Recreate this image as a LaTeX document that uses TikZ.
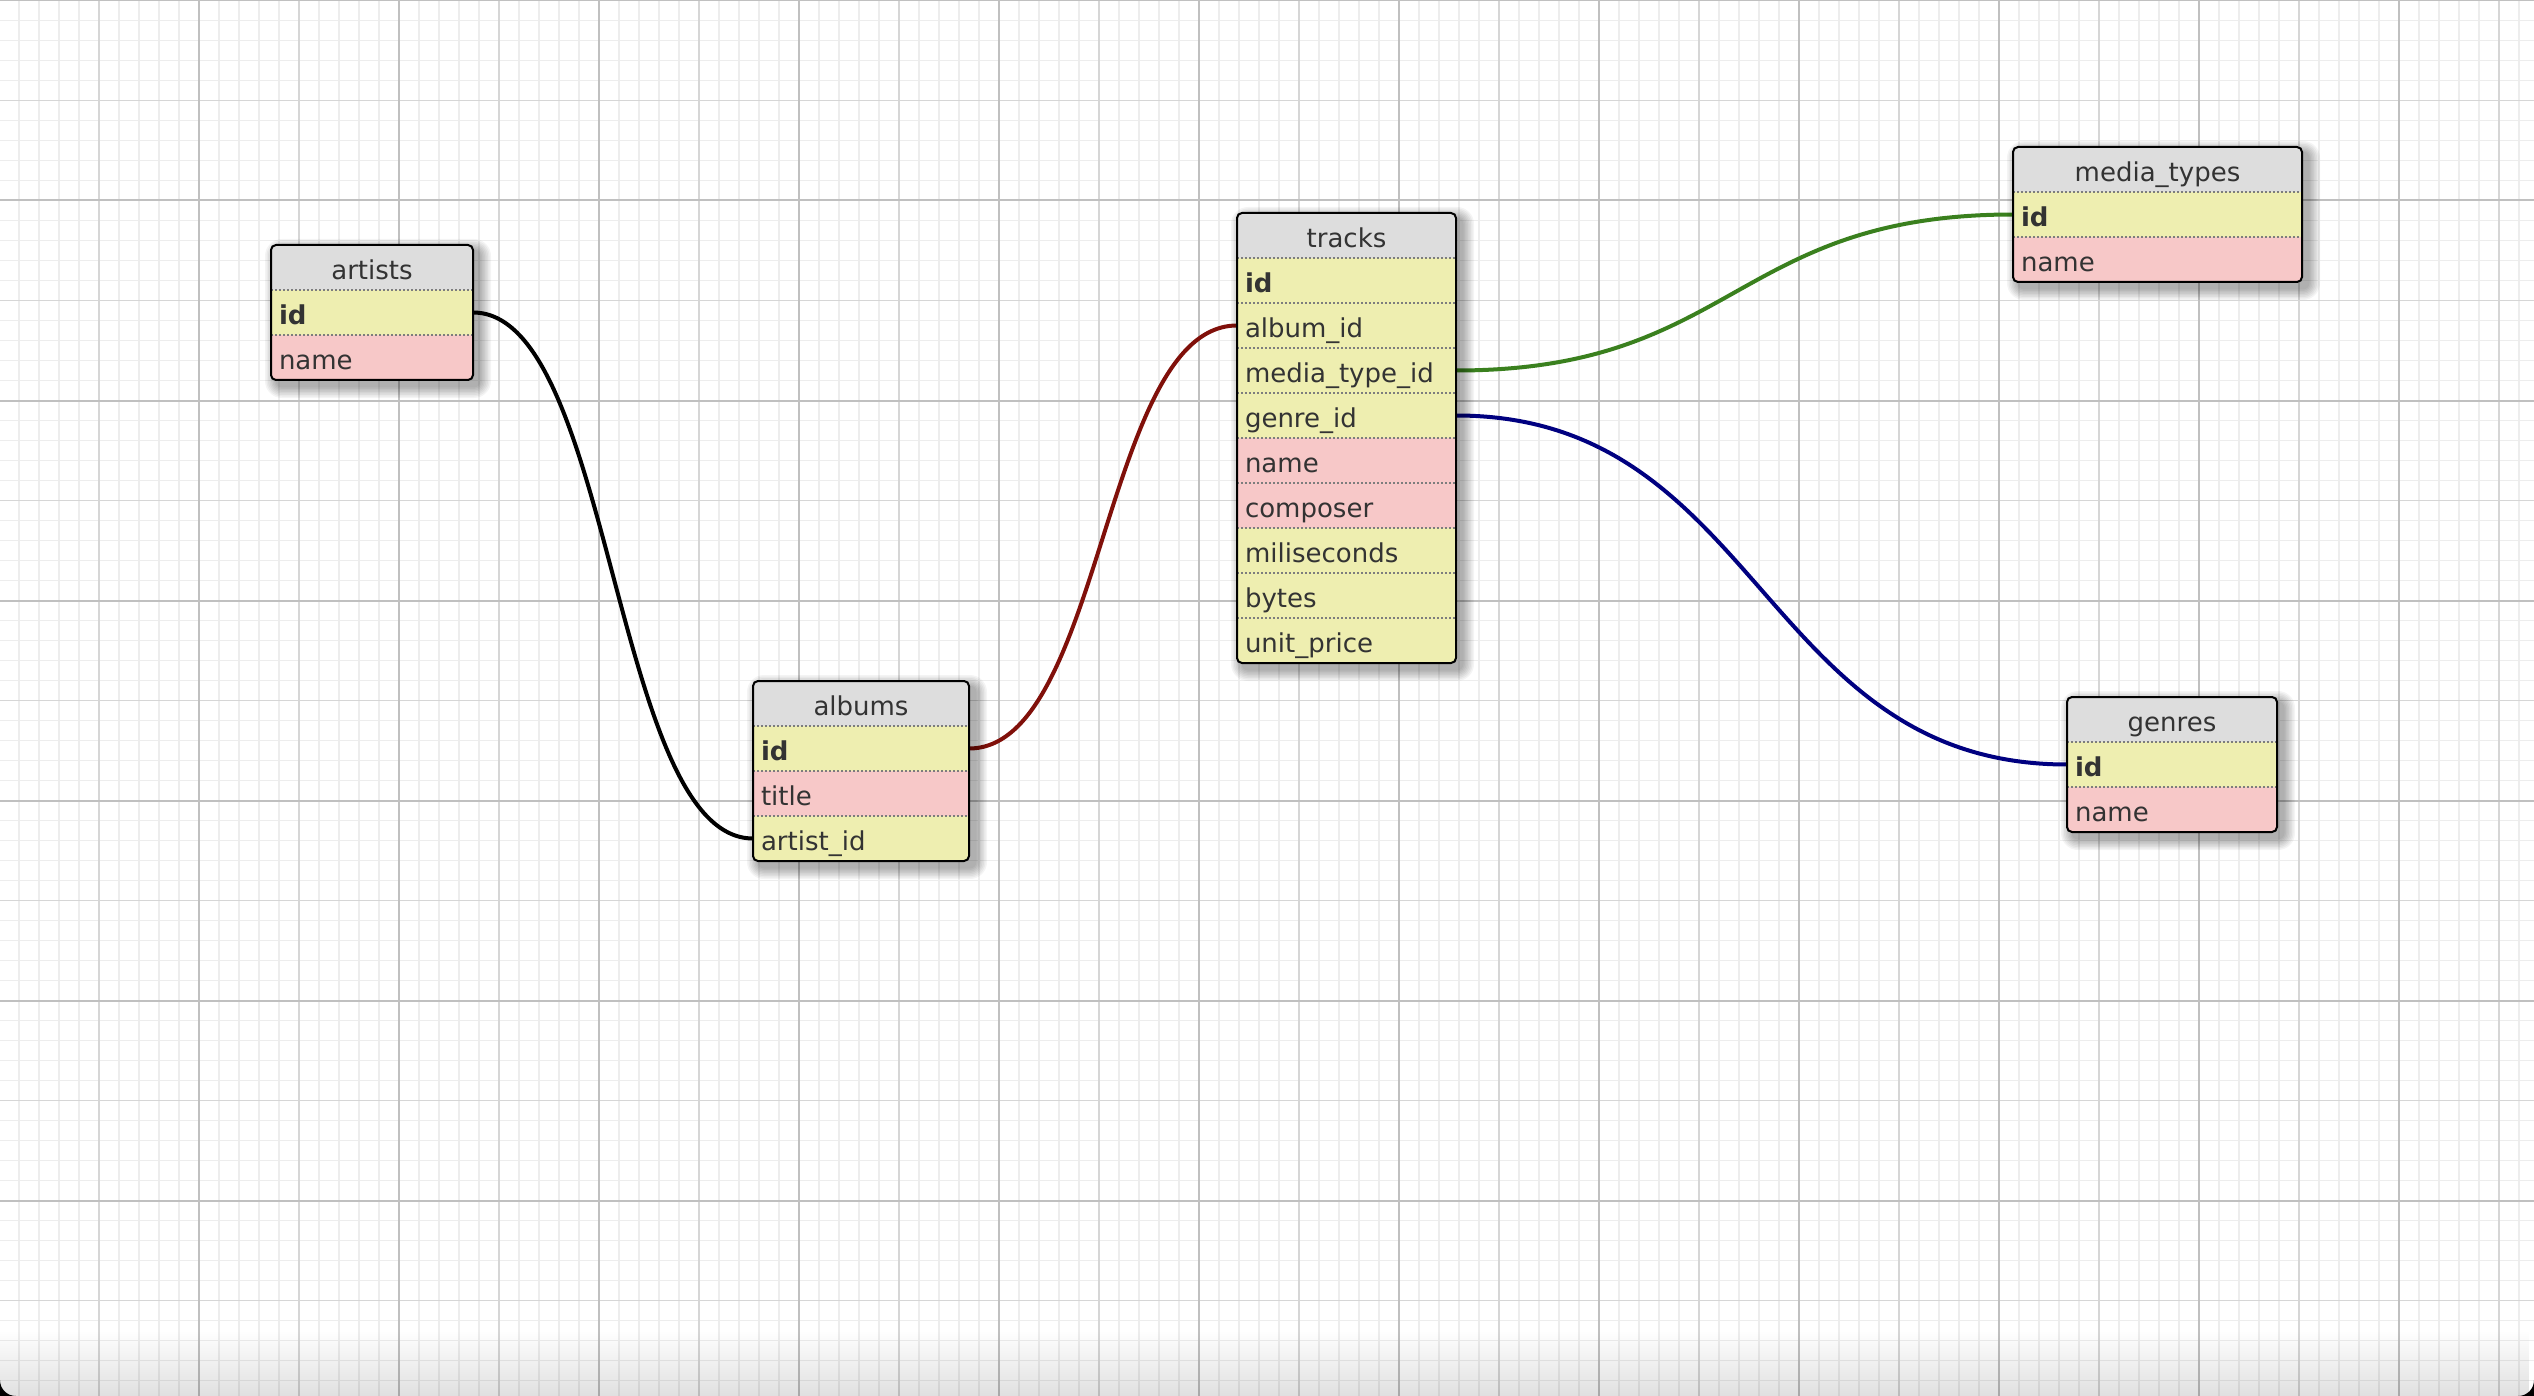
\documentclass[tikz,border=0pt]{standalone}
\usepackage{fontspec}
\setmainfont{DejaVu Sans}
\usetikzlibrary{calc,fadings}

\definecolor{numfill}{RGB}{238,238,176}
\definecolor{chrfill}{RGB}{247,200,200}
\definecolor{hdrfill}{RGB}{221,221,221}
\definecolor{inkgrey}{RGB}{51,51,51}
\definecolor{dotgrey}{RGB}{125,125,125}
\definecolor{gridminor}{RGB}{237,237,237}
\definecolor{gridmid}{RGB}{214,214,214}
\definecolor{gridmajor}{RGB}{192,192,192}
\definecolor{linkred}{RGB}{128,16,10}
\definecolor{linkgreen}{RGB}{58,128,30}
\definecolor{linknavy}{RGB}{0,0,128}

\pgfdeclarelayer{grid}
\pgfdeclarelayer{links}
\pgfsetlayers{grid,links,main}

\tikzfading[name=fadedown, top color=transparent!100, bottom color=transparent!0]

\tikzset{
  cell/.style={anchor=north west, inner xsep=4pt, inner ysep=0pt, outer sep=0pt,
    minimum height=22.5pt, text height=15pt, text depth=3pt,
    font=\fontsize{13pt}{15pt}\selectfont, text=inkgrey},
  hdr/.style={cell, fill=hdrfill, align=center},
  fld/.style={cell, align=left},
  rowsep/.style={draw=dotgrey, line width=0.75pt, dash pattern=on 1pt off 1pt},
  tableborder/.style={draw=black, line width=1pt, rounded corners=2.5pt},
  link/.style={line width=2pt},
}

% #1 name, #2 left, #3 top, #4 width (px), #5 number of fields, #6 title, #7 fields key/colour/text
\newcommand\dbtable[7]{%
  \pgfmathsetmacro\tabh{45*(#5+1)}%
  \pgfmathsetmacro\tabtw{#4*0.5-8}%
  % soft drop shadow, cast to the lower right
  \foreach \s in {1,...,8}{%
    \pgfmathsetmacro\shr{2.5+\s*0.75}%
    \fill[black, opacity=0.045, rounded corners=\shr pt]
      (#2+6-\s*1.5, #3+6-\s*1.5) rectangle ++(#4+\s*3, \tabh+\s*3);
  }%
  \begin{scope}
    \clip[rounded corners=2.5pt] (#2,#3) rectangle ++(#4,\tabh);
    \node[hdr, text width=\tabtw pt] (#1) at (#2,#3) {#6};
    \xdef\prevrow{#1}%
    \foreach \k/\c/\t in {#7}{%
      \node[fld, fill=\c, text width=\tabtw pt] (#1-\k) at (\prevrow.south west) {\t};
      \draw[rowsep] (#1-\k.north west) -- (#1-\k.north east);
      \xdef\prevrow{#1-\k}%
    }%
  \end{scope}
  \draw[tableborder] (#2,#3) rectangle ++(#4,\tabh);
}

\begin{document}
\begin{tikzpicture}[x=0.5pt, y=-0.5pt]
  \useasboundingbox (0,0) rectangle (2534,1396);

  % squared paper
  \begin{pgfonlayer}{grid}
    \fill[white] (0,0) rectangle (2534,1396);
    \foreach \i in {0,...,127} \draw[gridminor, line width=0.75pt] ({20*\i-1},0) -- ++(0,1396);
    \foreach \j in {0,...,69} \draw[gridminor, line width=0.75pt] (0,{20*\j+0.5}) -- ++(2534,0);
    \foreach \i in {0,...,25} \draw[gridmid, line width=0.85pt] ({100*\i+99},0) -- ++(0,1396);
    \foreach \j in {1,...,13} \draw[gridmid, line width=0.85pt] (0,{100*\j+0.5}) -- ++(2534,0);
    \foreach \i in {0,...,12} \draw[gridmajor, line width=1pt] ({200*\i+199},0) -- ++(0,1396);
    \foreach \j in {0,...,6} \draw[gridmajor, line width=1pt] (0,{200*\j+0.5}) -- ++(2534,0);
  \end{pgfonlayer}

  % tables
  \dbtable{artists}{271}{245}{202}{2}{artists}{id/numfill/\textbf{id},name/chrfill/name}
  \dbtable{albums}{753}{681}{216}{3}{albums}{id/numfill/\textbf{id},title/chrfill/title,artistid/numfill/artist\_id}
  \dbtable{tracks}{1237}{213}{219}{9}{tracks}{id/numfill/\textbf{id},albumid/numfill/album\_id,mediatypeid/numfill/media\_type\_id,genreid/numfill/genre\_id,name/chrfill/name,composer/chrfill/composer,miliseconds/numfill/miliseconds,bytes/numfill/bytes,unitprice/numfill/unit\_price}
  \dbtable{mediatypes}{2013}{147}{289}{2}{media\_types}{id/numfill/\textbf{id},name/chrfill/name}
  \dbtable{genres}{2067}{697}{210}{2}{genres}{id/numfill/\textbf{id},name/chrfill/name}

  % relations
  \begin{pgfonlayer}{links}
    \coordinate (m1) at ($(artists-id.east)!0.5!(albums-artistid.west)$);
    \draw[link, black] (artists-id.east) .. controls (m1 |- artists-id.east) and (m1 |- albums-artistid.west) .. (albums-artistid.west);
    \coordinate (m2) at ($(albums-id.east)!0.5!(tracks-albumid.west)$);
    \draw[link, linkred] (albums-id.east) .. controls (m2 |- albums-id.east) and (m2 |- tracks-albumid.west) .. (tracks-albumid.west);
    \coordinate (m3) at ($(tracks-mediatypeid.east)!0.5!(mediatypes-id.west)$);
    \draw[link, linkgreen] (tracks-mediatypeid.east) .. controls (m3 |- tracks-mediatypeid.east) and (m3 |- mediatypes-id.west) .. (mediatypes-id.west);
    \coordinate (m4) at ($(tracks-genreid.east)!0.5!(genres-id.west)$);
    \draw[link, linknavy] (tracks-genreid.east) .. controls (m4 |- tracks-genreid.east) and (m4 |- genres-id.west) .. (genres-id.west);
  \end{pgfonlayer}

  % window foot: shading and rounded corners
  \fill[black, fill opacity=0.12, path fading=fadedown] (0,1330) rectangle (2534,1396);
  \fill[black] (0,1380) .. controls (0,1389) and (7,1396) .. (16,1396) -- (0,1396) -- cycle;
  \fill[black] (2534,1380) .. controls (2534,1389) and (2527,1396) .. (2518,1396) -- (2534,1396) -- cycle;
\end{tikzpicture}
\end{document}
